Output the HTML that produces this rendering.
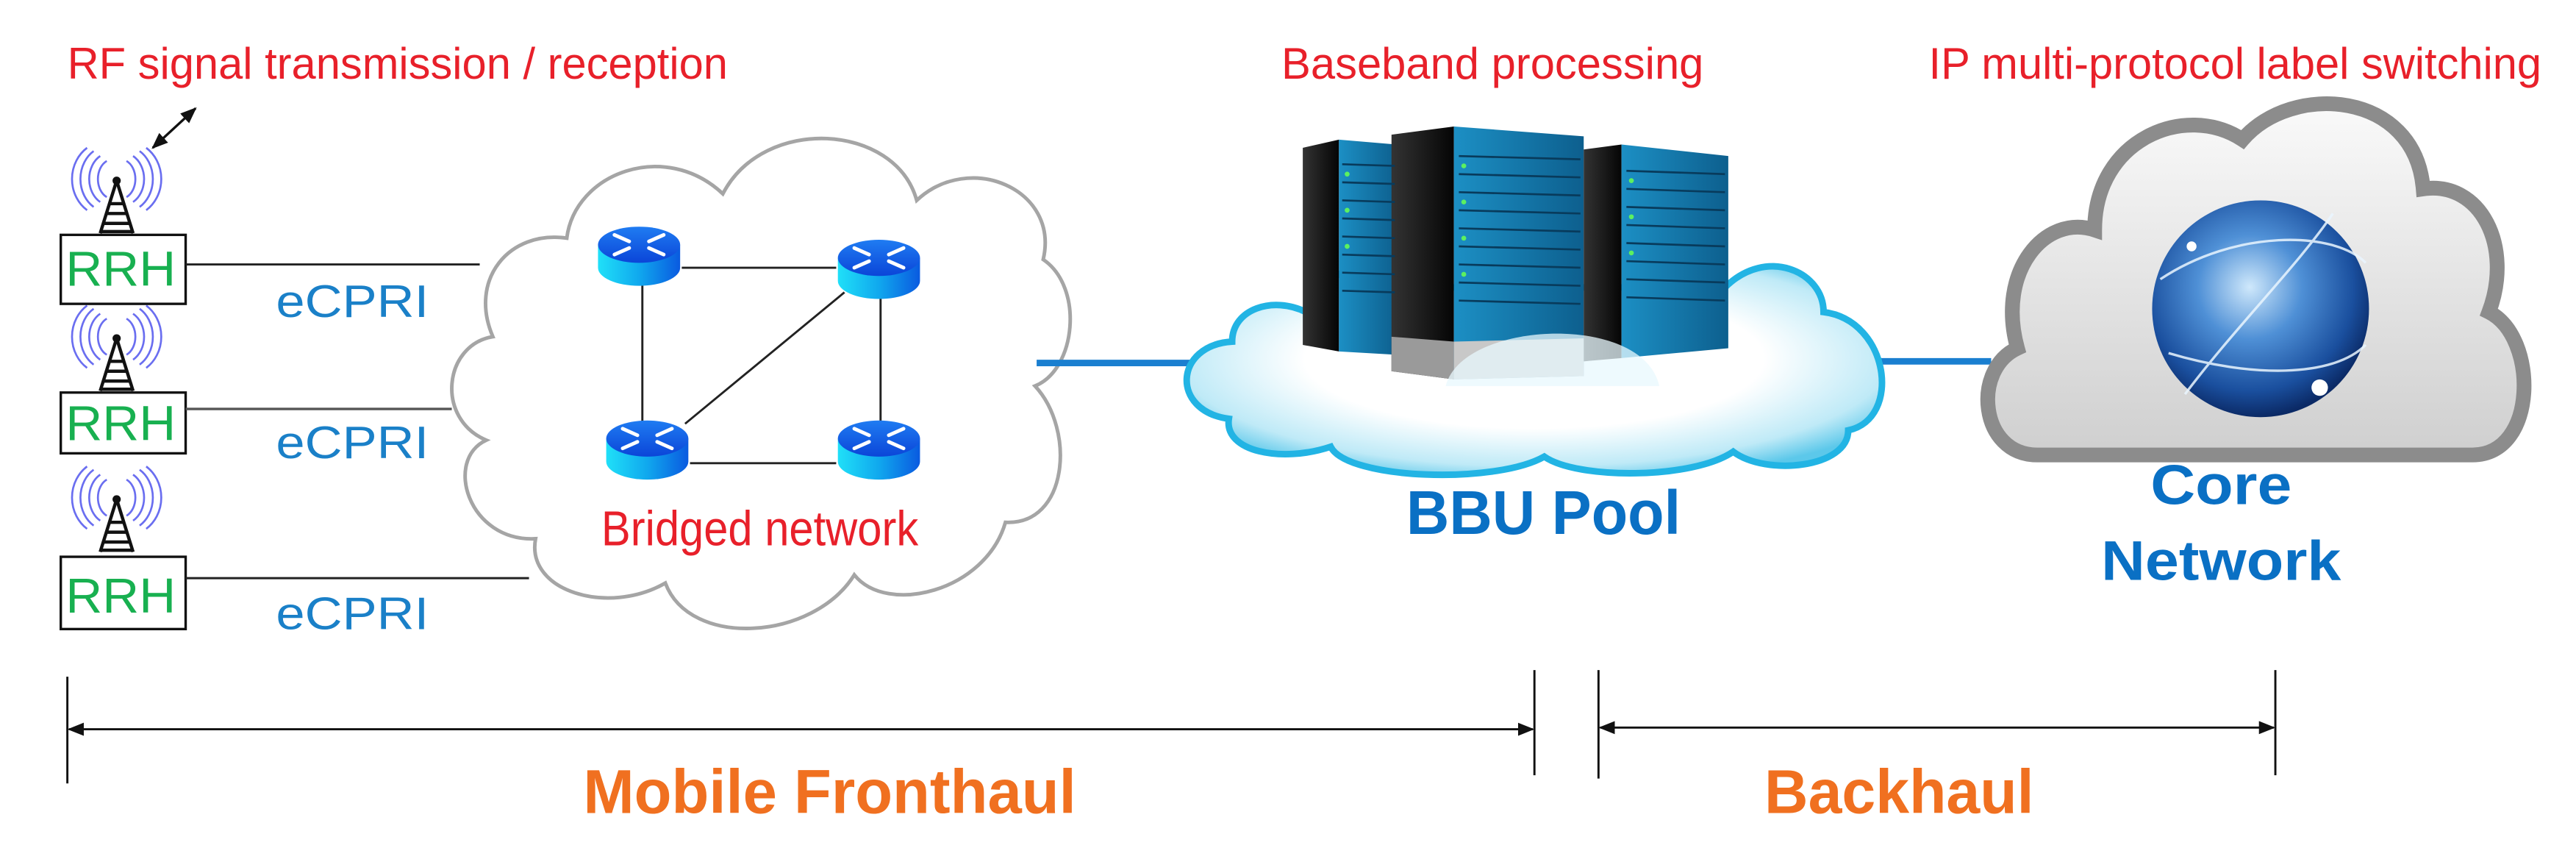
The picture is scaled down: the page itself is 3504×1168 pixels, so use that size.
<!DOCTYPE html>
<html><head><meta charset="utf-8"><style>
html,body{margin:0;padding:0;background:#fff;}
svg{display:block;}
text{font-family:"Liberation Sans",Arial,sans-serif;}
</style></head><body>
<svg width="3504" height="1168" viewBox="0 0 1568 523" preserveAspectRatio="none" xmlns="http://www.w3.org/2000/svg">
<defs>
<marker id="ah" markerWidth="10" markerHeight="8" refX="9" refY="4" orient="auto" markerUnits="userSpaceOnUse"><path d="M0,0 L10,4 L0,8 Z" fill="#111"/></marker>
<marker id="as" markerWidth="10" markerHeight="8" refX="1" refY="4" orient="auto" markerUnits="userSpaceOnUse"><path d="M10,0 L0,4 L10,8 Z" fill="#111"/></marker>
<radialGradient id="bbu" cx="50%" cy="45%" r="60%"><stop offset="0.55" stop-color="#ffffff"/><stop offset="0.85" stop-color="#bfeaf7"/><stop offset="1" stop-color="#5cc8ea"/></radialGradient>
<linearGradient id="core" x1="0" y1="0" x2="0" y2="1"><stop offset="0" stop-color="#fafafa"/><stop offset="1" stop-color="#cfcfcf"/></linearGradient>
<radialGradient id="globe" cx="45%" cy="40%" r="60%"><stop offset="0" stop-color="#cfe8fb"/><stop offset="0.4" stop-color="#4f90d6"/><stop offset="0.8" stop-color="#1a4f9e"/><stop offset="1" stop-color="#0b2a66"/></radialGradient>
<linearGradient id="rtop" x1="0" y1="0" x2="0" y2="1"><stop offset="0" stop-color="#1f7cf2"/><stop offset="1" stop-color="#0b45d8"/></linearGradient>
<linearGradient id="rbody" x1="0" y1="0" x2="1" y2="0"><stop offset="0" stop-color="#20e0f8"/><stop offset="0.5" stop-color="#10a8ee"/><stop offset="1" stop-color="#0a5ae0"/></linearGradient>
<linearGradient id="front" x1="0" y1="0" x2="1" y2="0"><stop offset="0" stop-color="#1c8fc4"/><stop offset="1" stop-color="#0d5f8e"/></linearGradient>
<linearGradient id="side" x1="0" y1="0" x2="1" y2="0"><stop offset="0" stop-color="#333"/><stop offset="1" stop-color="#050505"/></linearGradient>
<g id="router">
 <path d="M-25,-6 L-25,8 A25,11 0 0 0 25,8 L25,-6 Z" fill="url(#rbody)"/>
 <ellipse cx="0" cy="-6" rx="25" ry="11" fill="url(#rtop)"/>
 <g stroke="#fff" stroke-width="2.2" stroke-linecap="round">
  <line x1="-15" y1="-12" x2="-6" y2="-8"/><line x1="15" y1="-12" x2="6" y2="-8"/>
  <line x1="-15" y1="0" x2="-6" y2="-4"/><line x1="15" y1="0" x2="6" y2="-4"/>
 </g>
</g>
<g id="ant">
 <g fill="none" stroke="#6a6ef0" stroke-width="1.2">
  <path d="M-6,-12 A9,12 0 0 0 -6,10"/><path d="M-10,-15 A13,16 0 0 0 -10,13"/><path d="M-14,-18 A17,20 0 0 0 -14,16"/><path d="M-18,-20 A21,23 0 0 0 -18,18"/>
  <path d="M6,-12 A9,12 0 0 1 6,10"/><path d="M10,-15 A13,16 0 0 1 10,13"/><path d="M14,-18 A17,20 0 0 1 14,16"/><path d="M18,-20 A21,23 0 0 1 18,18"/>
 </g>
 <g stroke="#111" stroke-width="2" fill="none">
  <line x1="0" y1="0" x2="-10" y2="32"/><line x1="0" y1="0" x2="10" y2="32"/>
  <line x1="-4" y1="14" x2="4" y2="14"/><line x1="-6" y1="20" x2="6" y2="20"/><line x1="-8" y1="26" x2="8" y2="26"/><line x1="-10" y1="31" x2="10" y2="31"/>
 </g>
 <circle cx="0" cy="0" r="2.5" fill="#111"/>
</g>
</defs>

<!-- top labels -->
<text x="41" y="48" font-size="27" fill="#e8202a" textLength="402" lengthAdjust="spacingAndGlyphs">RF signal transmission / reception</text>
<text x="780" y="48" font-size="27" fill="#e8202a" textLength="257" lengthAdjust="spacingAndGlyphs">Baseband processing</text>
<text x="1174" y="48" font-size="27" fill="#e8202a" textLength="373" lengthAdjust="spacingAndGlyphs">IP multi-protocol label switching</text>

<line x1="93" y1="90" x2="119" y2="66" stroke="#111" stroke-width="1.5" marker-end="url(#ah)" marker-start="url(#as)"/>

<!-- antennas + RRH -->
<use href="#ant" x="71" y="110"/>
<use href="#ant" x="71" y="206"/>
<use href="#ant" x="71" y="304"/>
<rect x="37" y="143" width="76" height="42" fill="#fff" stroke="#111" stroke-width="1.5"/>
<rect x="37" y="239" width="76" height="37" fill="#fff" stroke="#111" stroke-width="1.5"/>
<rect x="37" y="339" width="76" height="44" fill="#fff" stroke="#111" stroke-width="1.5"/>
<text x="40" y="174" font-size="30" fill="#18b050" textLength="67" lengthAdjust="spacingAndGlyphs">RRH</text>
<text x="40" y="268" font-size="30" fill="#18b050" textLength="67" lengthAdjust="spacingAndGlyphs">RRH</text>
<text x="40" y="373" font-size="30" fill="#18b050" textLength="67" lengthAdjust="spacingAndGlyphs">RRH</text>

<line x1="113" y1="161" x2="292" y2="161" stroke="#222" stroke-width="1.3"/>
<line x1="113" y1="249" x2="275" y2="249" stroke="#555" stroke-width="1.5"/>
<line x1="113" y1="352" x2="322" y2="352" stroke="#222" stroke-width="1.3"/>
<text x="168" y="193" font-size="28" fill="#1a80c8" textLength="93" lengthAdjust="spacingAndGlyphs">eCPRI</text>
<text x="168" y="279" font-size="28" fill="#1a80c8" textLength="93" lengthAdjust="spacingAndGlyphs">eCPRI</text>
<text x="168" y="383" font-size="28" fill="#1a80c8" textLength="93" lengthAdjust="spacingAndGlyphs">eCPRI</text>

<!-- bridged cloud -->
<path d="M300 205 C285 170,310 140,345 145 C350 105,405 85,440 118 C465 70,545 75,558 122 C590 92,645 115,635 158 C660 175,655 225,630 235 C655 262,650 320,612 318 C600 360,540 375,520 350 C495 390,420 395,405 355 C370 375,320 360,326 328 C285 330,270 280,296 268 C265 255,270 210,300 205 Z" fill="#fff" stroke="#a5a5a5" stroke-width="2.2"/>
<g stroke="#222" stroke-width="1.3">
<line x1="415" y1="163" x2="509" y2="163"/>
<line x1="391" y1="170" x2="391" y2="258"/>
<line x1="536" y1="178" x2="536" y2="258"/>
<line x1="417" y1="258" x2="514" y2="178"/>
<line x1="420" y1="282" x2="509" y2="282"/>
</g>
<use href="#router" x="389" y="155"/>
<use href="#router" x="535" y="163"/>
<use href="#router" x="394" y="273"/>
<use href="#router" x="535" y="273"/>
<text x="366" y="332" font-size="30" fill="#e8202a" textLength="193" lengthAdjust="spacingAndGlyphs">Bridged network</text>

<!-- blue links -->
<line x1="631" y1="221" x2="730" y2="221" stroke="#1a7fd0" stroke-width="4"/>
<line x1="1140" y1="220" x2="1212" y2="220" stroke="#1a7fd0" stroke-width="4"/>

<!-- BBU cloud -->
<path d="M748 255 C712 250,715 210,750 208 C750 188,775 180,795 190 C805 160,850 150,875 175 L1050 175 C1075 150,1110 165,1110 190 C1150 195,1158 255,1125 262 C1125 285,1075 290,1055 275 C1030 292,960 292,940 278 C910 295,820 292,810 272 C780 282,745 275,748 255 Z" fill="url(#bbu)" stroke="#22b4e4" stroke-width="4"/>
<!-- servers -->
<g>
 <polygon points="793,90 815,85 815,214 793,210" fill="url(#side)"/>
 <polygon points="815,85 850,88 850,216 815,214" fill="url(#front)"/>
 <polygon points="847,82 885,77 885,231 847,226" fill="url(#side)"/>
 <polygon points="885,77 964,83 964,229 885,231" fill="url(#front)"/>
 <polygon points="964,91 987,88 987,218 964,220" fill="url(#side)"/>
 <polygon points="987,88 1052,95 1052,212 987,218" fill="url(#front)"/>
 <g stroke="#083b5c" stroke-width="1.2">
  <line x1="888" y1="95" x2="962" y2="97"/><line x1="888" y1="106" x2="962" y2="108"/><line x1="888" y1="117" x2="962" y2="119"/><line x1="888" y1="128" x2="962" y2="130"/><line x1="888" y1="139" x2="962" y2="141"/><line x1="888" y1="150" x2="962" y2="152"/><line x1="888" y1="161" x2="962" y2="163"/><line x1="888" y1="172" x2="962" y2="174"/><line x1="888" y1="183" x2="962" y2="185"/>
  <line x1="990" y1="104" x2="1050" y2="106"/><line x1="990" y1="115" x2="1050" y2="117"/><line x1="990" y1="126" x2="1050" y2="128"/><line x1="990" y1="137" x2="1050" y2="139"/><line x1="990" y1="148" x2="1050" y2="150"/><line x1="990" y1="159" x2="1050" y2="161"/><line x1="990" y1="170" x2="1050" y2="172"/><line x1="990" y1="181" x2="1050" y2="183"/>
  <line x1="817" y1="100" x2="849" y2="101"/><line x1="817" y1="111" x2="849" y2="112"/><line x1="817" y1="122" x2="849" y2="123"/><line x1="817" y1="133" x2="849" y2="134"/><line x1="817" y1="144" x2="849" y2="145"/><line x1="817" y1="155" x2="849" y2="156"/><line x1="817" y1="166" x2="849" y2="167"/><line x1="817" y1="177" x2="849" y2="178"/>
 </g>
 <g fill="#5cf060">
  <circle cx="891" cy="101" r="1.5"/><circle cx="891" cy="123" r="1.5"/><circle cx="891" cy="145" r="1.5"/><circle cx="891" cy="167" r="1.5"/>
  <circle cx="993" cy="110" r="1.5"/><circle cx="993" cy="132" r="1.5"/><circle cx="993" cy="154" r="1.5"/>
  <circle cx="820" cy="106" r="1.5"/><circle cx="820" cy="128" r="1.5"/><circle cx="820" cy="150" r="1.5"/>
 </g>
 <polygon points="847,205 885,208 885,231 847,226" fill="#9a9a9a"/>
 <polygon points="885,208 964,206 964,229 885,231" fill="#c8c8c8"/>
 <path d="M880 235 C890 195,1000 190,1010 235 Z" fill="#e8f8fd" opacity="0.75"/>
</g>
<text x="856" y="325" font-size="38" font-weight="bold" fill="#0a70c4" textLength="167" lengthAdjust="spacingAndGlyphs">BBU Pool</text>

<!-- core cloud -->
<path d="M1240 277 C1205 277,1200 225,1228 212 C1215 165,1245 130,1275 140 C1275 85,1330 62,1365 85 C1395 50,1470 55,1475 115 C1510 110,1530 150,1515 190 C1545 205,1545 277,1505 277 Z" fill="url(#core)" stroke="#8c8c8c" stroke-width="9"/>
<circle cx="1376" cy="188" r="66" fill="url(#globe)"/>
<g fill="none" stroke="#eaf6ff" stroke-width="1.5" opacity="0.85">
 <path d="M1315 170 C1360 140,1420 140,1440 160"/>
 <path d="M1330 240 C1360 200,1400 160,1420 130"/>
 <path d="M1320 215 C1370 230,1420 230,1440 210"/>
</g>
<circle cx="1412" cy="236" r="5" fill="#fff"/>
<circle cx="1334" cy="150" r="3" fill="#fff"/>
<text x="1309" y="307" font-size="34" font-weight="bold" fill="#0a70c4" textLength="86" lengthAdjust="spacingAndGlyphs">Core</text>
<text x="1279" y="353" font-size="34" font-weight="bold" fill="#0a70c4" textLength="146" lengthAdjust="spacingAndGlyphs">Network</text>

<!-- dimension lines -->
<g stroke="#111" stroke-width="1.3">
<line x1="41" y1="412" x2="41" y2="477"/>
<line x1="934" y1="408" x2="934" y2="472"/>
<line x1="973" y1="408" x2="973" y2="474"/>
<line x1="1385" y1="408" x2="1385" y2="472"/>
<line x1="42" y1="444" x2="933" y2="444" marker-start="url(#as)" marker-end="url(#ah)"/>
<line x1="974" y1="443" x2="1384" y2="443" marker-start="url(#as)" marker-end="url(#ah)"/>
</g>
<text x="355" y="495" font-size="38" font-weight="bold" fill="#f07020" textLength="300" lengthAdjust="spacingAndGlyphs">Mobile Fronthaul</text>
<text x="1074" y="495" font-size="38" font-weight="bold" fill="#f07020" textLength="164" lengthAdjust="spacingAndGlyphs">Backhaul</text>
</svg>
</body></html>
